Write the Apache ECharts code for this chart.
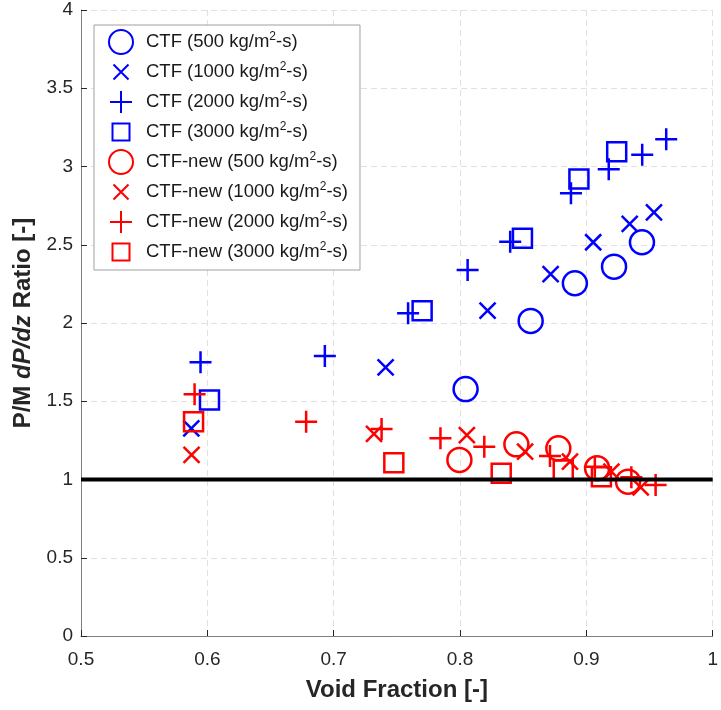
<!DOCTYPE html>
<html>
<head>
<meta charset="utf-8">
<script src="https://cdn.jsdelivr.net/npm/echarts@6/dist/echarts.min.js"></script>
<style>html,body{margin:0;padding:0;background:#fff;}#c{width:721px;height:710px;}</style>
</head>
<body>
<div id="c"></div>
<script>
var ctf500  = [[0.8044,1.578],[0.8559,2.013],[0.8909,2.254],[0.9219,2.360],[0.9440,2.516]];
var ctf1000 = [[0.5873,1.327],[0.7411,1.717],[0.8218,2.079],[0.8717,2.313],[0.9054,2.516],[0.9343,2.633],[0.9535,2.707]];
var ctf2000 = [[0.5946,1.749],[0.6930,1.789],[0.7589,2.062],[0.8060,2.339],[0.8397,2.519],[0.8878,2.829],[0.9177,2.982],[0.9442,3.075],[0.9632,3.174]];
var ctf3000 = [[0.6017,1.508],[0.7700,2.079],[0.8494,2.541],[0.8941,2.920],[0.9240,3.095]];
var new500  = [[0.7995,1.125],[0.8446,1.225],[0.8778,1.199],[0.9085,1.072],[0.9330,0.986]];
var new1000 = [[0.5875,1.157],[0.7319,1.291],[0.8054,1.284],[0.8515,1.178],[0.8870,1.114],[0.9198,1.050],[0.9430,0.950]];
var new2000 = [[0.5899,1.544],[0.6782,1.369],[0.7379,1.323],[0.7845,1.263],[0.8192,1.210],[0.8712,1.150],[0.9067,1.082],[0.9356,1.014],[0.9548,0.965]];
var new3000 = [[0.5891,1.369],[0.7476,1.107],[0.8326,1.040],[0.8817,1.061],[0.9119,1.018]];
var refLine = [[0.5,1],[1,1]];
var xTicks = [0.5,0.6,0.7,0.8,0.9,1];
var yTicks = [0,0.5,1,1.5,2,2.5,3,3.5,4];
var seriesNames = ['CTF (500 kg/m2-s)','CTF (1000 kg/m2-s)','CTF (2000 kg/m2-s)','CTF (3000 kg/m2-s)',
  'CTF-new (500 kg/m2-s)','CTF-new (1000 kg/m2-s)','CTF-new (2000 kg/m2-s)','CTF-new (3000 kg/m2-s)'];

var BLUE = '#0000ff', RED = '#ff0000';
var FONT = 'Liberation Sans, Arial, sans-serif';
var SYM = {
  circle: 'circle',
  x: 'path://M0,0L10,10M10,0L0,10',
  plus: 'path://M5,0L5,10M0,5L10,5',
  square: 'rect'
};
var SIZE = {circle: 24, x: 16, plus: 22, square: 19};
// legend icons drawn inside a 24x24 box (leading/trailing moves set the box)
var LEGICON = {
  circle: 'circle',
  x: 'path://M0,0M4.5,4.5L19.5,19.5M19.5,4.5L4.5,19.5M24,24',
  plus: 'path://M0,0M12,1L12,23M1,12L23,12M24,24',
  square: 'path://M0,0M3.5,3.5L20.5,3.5L20.5,20.5L3.5,20.5Z M24,24'
};
var shapes = ['circle','x','plus','square','circle','x','plus','square'];

function sc(name, data, shape, color) {
  return {
    name: name, type: 'scatter', data: data,
    symbol: SYM[shape], symbolSize: SIZE[shape], symbolKeepAspect: true,
    itemStyle: {color: 'rgba(0,0,0,0)', borderColor: color, borderWidth: 2.5, opacity: 1},
    emphasis: {disabled: true},
    z: 3
  };
}

var series = [
  sc(seriesNames[0], ctf500, 'circle', BLUE),
  sc(seriesNames[1], ctf1000, 'x', BLUE),
  sc(seriesNames[2], ctf2000, 'plus', BLUE),
  sc(seriesNames[3], ctf3000, 'square', BLUE),
  sc(seriesNames[4], new500, 'circle', RED),
  sc(seriesNames[5], new1000, 'x', RED),
  sc(seriesNames[6], new2000, 'plus', RED),
  sc(seriesNames[7], new3000, 'square', RED),
  {type: 'line', data: refLine, symbol: 'none', lineStyle: {color: '#000', width: 4}, z: 5, silent: true}
];

var chart = echarts.init(document.getElementById('c'));
chart.setOption({
  animation: false,
  backgroundColor: '#fff',
  grid: {left: 81, right: 6, top: 10, bottom: 74, containLabel: false},
  legend: {
    orient: 'vertical', left: 94, top: 25,
    data: seriesNames.map(function (n, i) { return {name: n, icon: LEGICON[shapes[i]]}; }),
    itemWidth: 24, itemHeight: 24, itemGap: 4,
    padding: [4, 12, 5, 14],
    backgroundColor: '#fff', borderColor: '#a0a0a0', borderWidth: 1, borderRadius: 0,
    selectedMode: false,
    formatter: function (n) { return n.replace('m2', 'm{sup|2}'); },
    textStyle: {
      fontFamily: FONT, fontSize: 18.5, color: '#1a1a1a', padding: [0, 0, 0, 8], lineHeight: 22,
      rich: {sup: {fontFamily: FONT, fontSize: 12, color: '#1a1a1a', verticalAlign: 'top', lineHeight: 11}}
    }
  },
  xAxis: {
    type: 'value', min: 0.5, max: 1, interval: 0.1,
    name: 'Void Fraction [-]', nameLocation: 'middle', nameGap: 42,
    nameTextStyle: {fontFamily: FONT, fontSize: 24, fontWeight: 'bold', color: '#262626'},
    axisLine: {show: true, onZero: false, lineStyle: {color: '#808080', width: 1}},
    axisTick: {show: true, inside: true, length: 6, lineStyle: {color: '#262626'}},
    axisLabel: {fontFamily: FONT, fontSize: 19, color: '#262626', margin: 14,
      formatter: function (v) { return xTicks.indexOf(Math.round(v * 10) / 10) >= 0 ? String(Math.round(v * 10) / 10) : ''; }},
    splitLine: {show: true, lineStyle: {color: '#e0e0e0', type: [6, 4], width: 1}}
  },
  yAxis: {
    type: 'value', min: 0, max: 4, interval: 0.5,
    name: 'P/M {i|dP/dz} Ratio [-]', nameLocation: 'middle', nameGap: 35,
    nameTextStyle: {fontFamily: FONT, fontSize: 24, fontWeight: 'bold', color: '#262626',
      rich: {i: {fontFamily: FONT, fontSize: 24, fontWeight: 'bold', fontStyle: 'italic', color: '#262626'}}},
    axisLine: {show: true, onZero: false, lineStyle: {color: '#808080', width: 1}},
    axisTick: {show: true, inside: true, length: 6, lineStyle: {color: '#262626'}},
    axisLabel: {fontFamily: FONT, fontSize: 19, color: '#262626', margin: 8,
      formatter: function (v) { return yTicks.indexOf(v) >= 0 ? String(v) : ''; }},
    splitLine: {show: true, lineStyle: {color: '#e0e0e0', type: [6, 4], width: 1}}
  },
  series: series
});
</script>
</body>
</html>
